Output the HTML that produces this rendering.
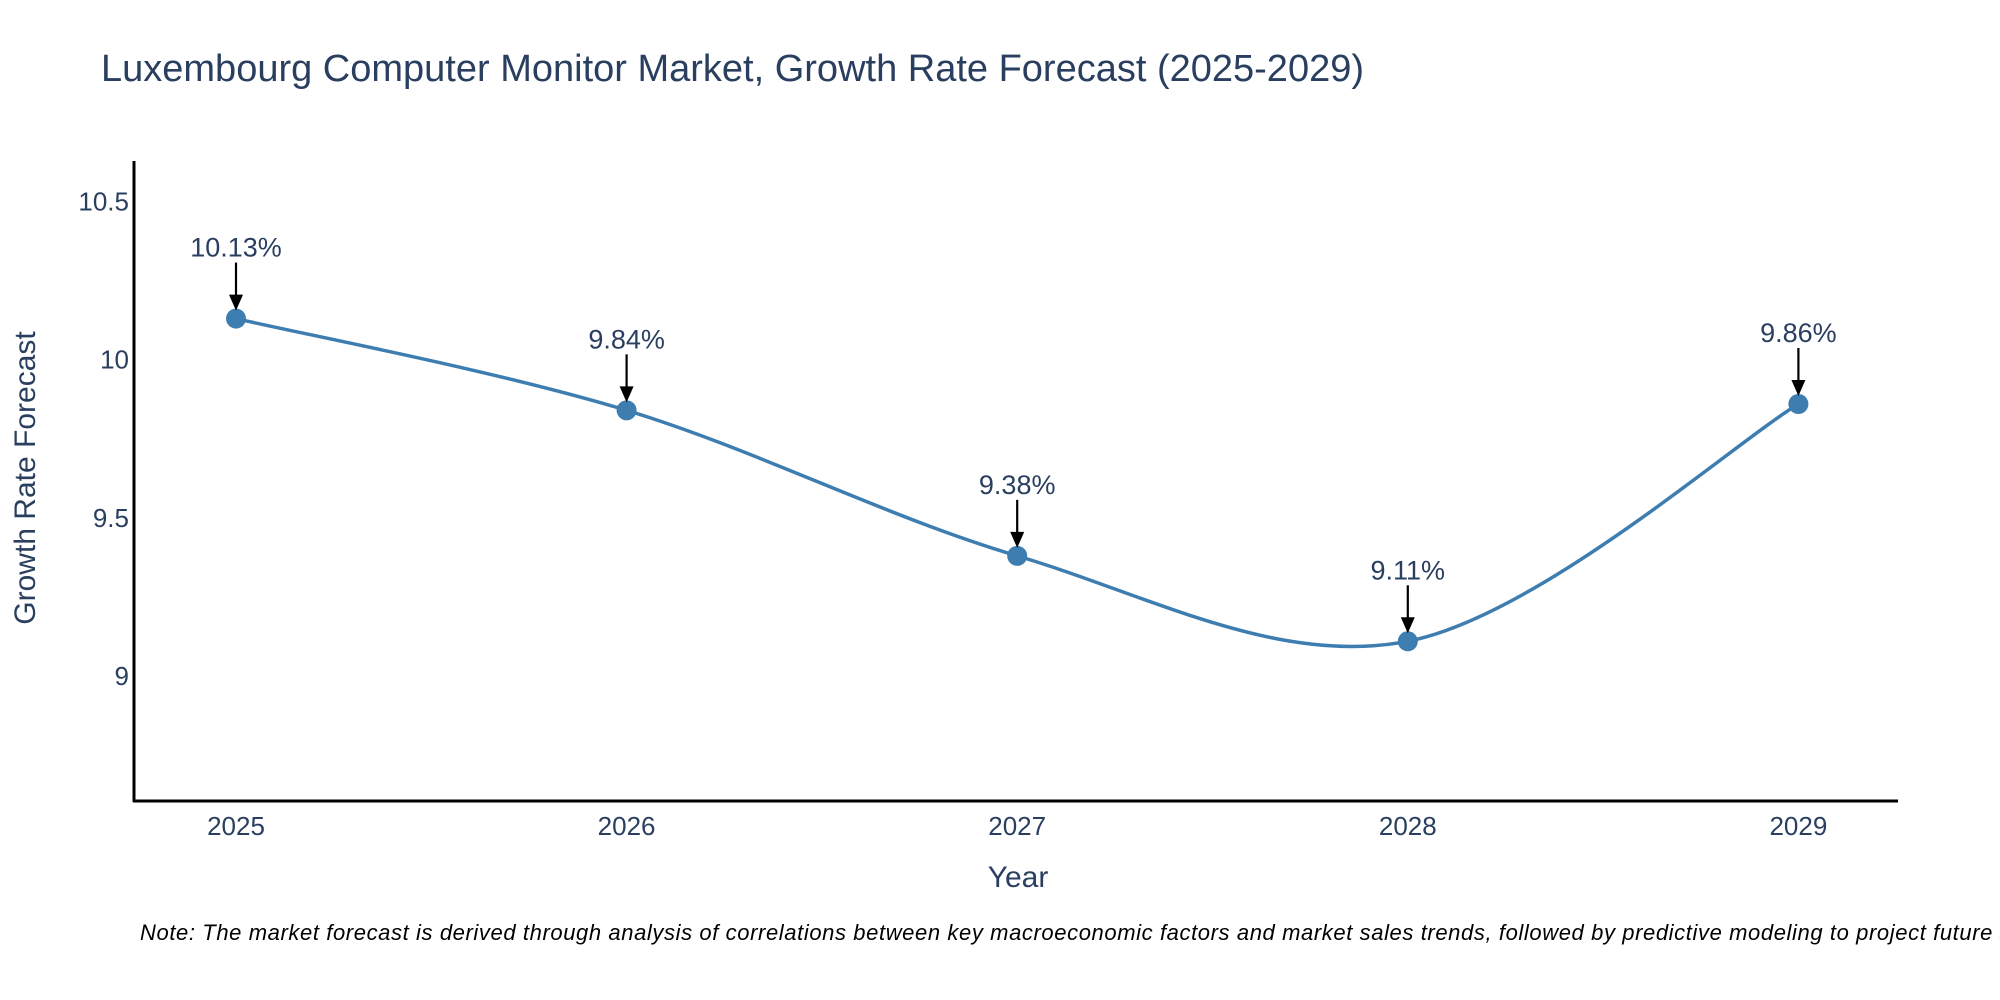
<!DOCTYPE html>
<html><head><meta charset="utf-8"><style>
html,body{margin:0;padding:0;background:#fff;}
svg{display:block;font-family:"Liberation Sans",sans-serif;}
</style></head><body>
<svg id="chart" width="2000" height="1000" viewBox="0 0 2000 1000">
<text x="101" y="81" font-size="38" fill="#2a3f5f">Luxembourg Computer Monitor Market, Growth Rate Forecast (2025-2029)</text>
<g id="yticks"></g><g id="xticks"></g>
<line x1="134" y1="161" x2="134" y2="802" stroke="#000" stroke-width="3"/>
<line x1="133" y1="801" x2="1898" y2="801" stroke="#000" stroke-width="3"/>
<path id="line" fill="none" stroke="#3d7db0" stroke-width="3.5"/>
<g id="marks"></g>
<text x="1018" y="887" font-size="30" fill="#2a3f5f" text-anchor="middle">Year</text>
<text transform="translate(35,478) rotate(-90)" font-size="30" fill="#2a3f5f" text-anchor="middle">Growth Rate Forecast</text>
<text x="140" y="940" font-size="22" font-style="italic" fill="#000" letter-spacing="0.6">Note: The market forecast is derived through analysis of correlations between key macroeconomic factors and market sales trends, followed by predictive modeling to project future sales.</text>
</svg>
<script>
const years=["2025","2026","2027","2028","2029"];
const values=[10.13,9.84,9.38,9.11,9.86];
const yTicks=[9,9.5,10,10.5];
const NS="http://www.w3.org/2000/svg";
function xs(i){return 236+i*390.6;}
function ys(v){return 201.5+(10.5-v)*316.4;}
function mk(t,a,p){const e=document.createElementNS(NS,t);for(const k in a)e.setAttribute(k,a[k]);p.appendChild(e);return e;}
const yt=document.getElementById('yticks');
yTicks.forEach(v=>{const t=mk('text',{x:129,y:ys(v)+9,'font-size':26,fill:'#2a3f5f','text-anchor':'end'},yt);


t.textContent=String(v);});
const xt=document.getElementById('xticks');
years.forEach((y,i)=>{const t=mk('text',{x:xs(i),y:835,'font-size':26,fill:'#2a3f5f','text-anchor':'middle'},xt);


t.textContent=y;});
const P=values.map((v,i)=>[xs(i),ys(v)]);
let d='M'+P[0][0]+','+P[0][1];
for(let i=0;i<P.length-1;i++){const p0=P[Math.max(i-1,0)],p1=P[i],p2=P[i+1],p3=P[Math.min(i+2,P.length-1)];
const c1=[p1[0]+(p2[0]-p0[0])/6,p1[1]+(p2[1]-p0[1])/6],c2=[p2[0]-(p3[0]-p1[0])/6,p2[1]-(p3[1]-p1[1])/6];
d+=' C'+c1+' '+c2+' '+p2;}
document.getElementById('line').setAttribute('d',d);
const g=document.getElementById('marks');
P.forEach((p,i)=>{
const c=mk('circle',{cx:p[0],cy:p[1],r:10,fill:'#3d7db0'},g);


const l=mk('line',{x1:p[0],y1:p[1]-56,x2:p[0],y2:p[1]-22,stroke:'#000','stroke-width':2.2},g);


const a=mk('polygon',{points:(p[0]-7)+','+(p[1]-24)+' '+(p[0]+7)+','+(p[1]-24)+' '+p[0]+','+(p[1]-8),fill:'#000'},g);


const t=mk('text',{x:p[0],y:p[1]-62,'font-size':27,fill:'#2a3f5f','text-anchor':'middle'},g);


t.textContent=values[i].toFixed(2)+'%';
});
</script>
</body></html>
